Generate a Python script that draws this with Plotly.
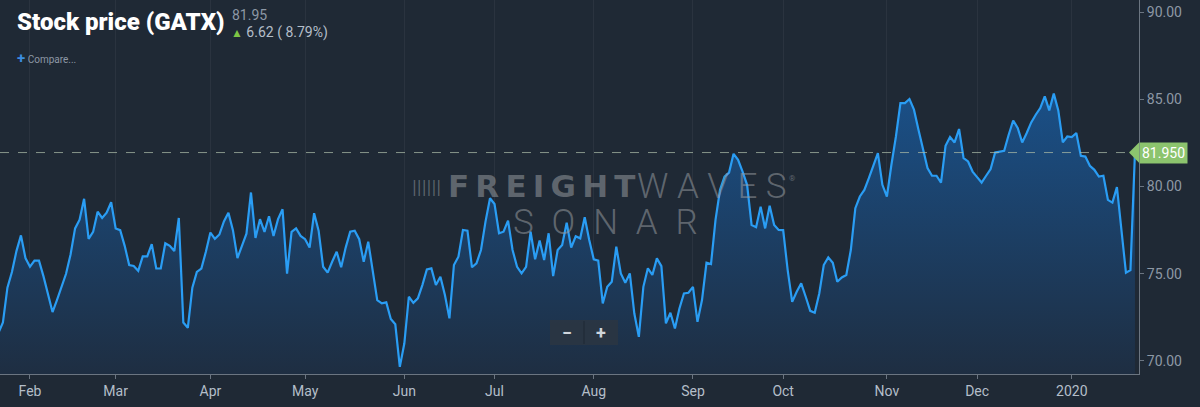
import pandas as pd
import plotly.graph_objects as go

# --- Data (GATX daily close) ---
START_DATE = "2019-01-23"
END_DATE = "2020-01-23"
HOLIDAYS = ["2019-02-18", "2019-04-19", "2019-05-27", "2019-07-04", "2019-09-02",
            "2019-11-28", "2019-12-25", "2020-01-01", "2020-01-20"]

prices = [
    71.6, 72.2, 74.2, 75.1, 76.3, 77.2, 75.9, 75.4, 75.75, 75.75,
    74.85, 73.9, 72.8, 73.5, 74.3, 75.0, 76.1, 77.6, 78.1, 79.3,
    77.0, 77.4, 78.56, 78.2, 78.5, 79.1, 77.6, 77.5, 76.6, 75.5,
    75.45, 75.17, 76.0, 76.0, 76.7, 75.3, 75.3, 76.75, 76.6, 76.3,
    78.2, 72.2, 71.9, 74.2, 75.1, 75.3, 76.26, 77.36, 77.0, 77.25,
    78.0, 78.5, 77.5, 75.9, 76.6, 77.3, 79.66, 77.05, 78.13, 77.4,
    78.3, 77.17, 78.13, 78.7, 75.0, 77.4, 77.6, 77.17, 76.98, 76.5,
    78.47, 77.47, 75.4, 75.06, 75.69, 76.26, 75.37, 76.5, 77.41, 77.47,
    76.98, 75.69, 76.84, 75.21, 73.49, 73.3, 73.36, 72.4, 72.1, 69.66,
    71.0, 73.68, 73.33, 73.59, 74.35, 75.25, 75.31, 74.35, 74.83, 73.78,
    72.44, 75.5, 75.98, 77.51, 77.47, 75.37, 75.6, 76.36, 77.99, 79.33,
    79.0, 77.32, 77.41, 78.05, 76.36, 75.4, 75.02, 75.4, 77.41, 75.83,
    76.9, 75.79, 77.32, 74.87, 76.36, 76.65, 77.93, 76.5, 77.15, 77.03,
    78.24, 76.94, 75.83, 75.75, 73.3, 74.25, 74.54, 76.55, 75.02, 74.48,
    75.02, 72.72, 71.38, 74.25, 75.31, 74.93, 75.88, 75.44, 72.15, 72.76,
    71.86, 73.01, 73.87, 73.91, 74.25, 72.24, 73.49, 75.63, 75.56, 78.09,
    79.81, 80.57, 80.8, 81.88, 81.53, 80.86, 80.1, 77.8, 77.67, 78.85,
    77.6, 78.9, 77.8, 77.51, 77.5, 75.21, 73.39, 73.97, 74.45, 73.68,
    72.87, 72.76, 73.87, 75.5, 75.94, 75.63, 74.54, 74.79, 74.93, 76.36,
    78.76, 79.43, 79.81, 80.48, 81.15, 81.92, 80.1, 79.43, 81.25, 82.87,
    84.79, 84.79, 85.02, 84.41, 83.26, 82.21, 81.06, 80.62, 80.62, 80.23,
    82.34, 82.84, 82.53, 83.3, 81.63, 81.44, 80.86, 80.54, 80.23, 80.62,
    81.0, 81.95, 82.01, 82.05, 82.97, 83.79, 83.36, 82.53, 83.07, 83.68,
    84.12, 84.5, 85.17, 84.37, 85.33, 84.37, 82.53, 82.87, 82.84, 83.07,
    81.76, 81.72, 81.19, 80.96, 80.57, 80.62, 79.24, 79.08, 79.97, 77.51,
    75.06, 75.21, 81.95,
]

month_ticks = ["2019-02-01", "2019-03-01", "2019-04-01", "2019-05-01", "2019-06-03",
               "2019-07-01", "2019-08-01", "2019-09-03", "2019-10-01", "2019-11-01",
               "2019-12-02", "2020-01-02"]
month_labels = ["Feb", "Mar", "Apr", "May", "Jun", "Jul", "Aug", "Sep", "Oct", "Nov", "Dec", "2020"]

y_ticks = [70, 75, 80, 85, 90]

last_price = 81.95
change = 6.62
change_pct = 8.79

# --- Styling ---
BG = "#1f2935"
LINE = "#2a9df4"
GRID = "rgba(255,255,255,0.05)"
AXIS_TXT = "#8d98a5"
WATERMARK = "rgba(150,155,160,0.55)"
THIN = "\u2009"

PLOT_W = 1139  # px of plot area (used to place overlay items)
PLOT_H = 374

dates = pd.bdate_range(START_DATE, END_DATE)
dates = dates[~dates.isin(pd.to_datetime(HOLIDAYS))]
assert len(dates) == len(prices), (len(dates), len(prices))


def px_x(x):
    return x / PLOT_W


def px_y(y):
    return 1 - y / PLOT_H


fig = go.Figure()
fig.add_trace(go.Scatter(
    x=dates, y=prices, mode="lines",
    line=dict(color=LINE, width=2.2),
    fill="tozeroy",
    fillgradient=dict(type="vertical",
                      colorscale=[[0, "rgba(30,46,66,1)"], [1, "rgba(26,80,136,1)"]],
                      start=69.3, stop=85.5),
    hoverinfo="x+y",
    showlegend=False,
))

# dashed line at last price
fig.add_shape(type="line", xref="paper", x0=0, x1=1, yref="y", y0=last_price, y1=last_price,
              line=dict(color="rgba(170,185,165,0.75)", width=1, dash="dash"))

# price tag on the axis
fig.add_shape(type="path", xref="paper", yref="y",
              path=f"M {px_x(1129)},{last_price} L 1,{last_price + 0.58} L 1,{last_price - 0.58} Z",
              fillcolor="#8cc46e", line=dict(width=0))
fig.add_annotation(xref="paper", yref="y", x=1, y=last_price, xanchor="left", yanchor="middle",
                   text=f"{last_price:.3f}", showarrow=False, bgcolor="#8cc46e",
                   font=dict(family="Roboto", size=14, color="#ffffff"),
                   borderpad=2)

# header
fig.add_annotation(xref="paper", yref="paper", x=px_x(15), y=px_y(22), xanchor="left", yanchor="middle",
                   text="Stock price (GATX)", showarrow=False,
                   font=dict(family="Roboto", size=24, color="#ffffff", weight=900))
fig.add_annotation(xref="paper", yref="paper", x=px_x(230), y=px_y(15), xanchor="left", yanchor="middle",
                   text=f"{last_price:.2f}", showarrow=False,
                   font=dict(family="Roboto", size=14, color="#8d98a5"))
fig.add_annotation(xref="paper", yref="paper", x=px_x(229), y=px_y(32), xanchor="left", yanchor="middle",
                   text=f"<span style='color:#7dc545;font-size:12px'>▲</span> {change:.2f} ( {change_pct:.2f}%)",
                   showarrow=False,
                   font=dict(family="Roboto", size=14, color="#b4bec9"))
fig.add_annotation(xref="paper", yref="paper", x=px_x(15), y=px_y(58), xanchor="left", yanchor="middle",
                   text="<span style='color:#3b8de0;font-size:15px'><b>+</b></span> Compare...",
                   showarrow=False,
                   font=dict(family="Roboto", size=10, color="#8d98a5"))

# watermark
fig.add_annotation(xref="paper", yref="paper", x=px_x(410), y=px_y(186), xanchor="left", yanchor="middle",
                   text="||||||", showarrow=False,
                   font=dict(family="DejaVu Sans Condensed", size=16, color=WATERMARK))
fig.add_annotation(xref="paper", yref="paper", x=px_x(637), y=px_y(186), xanchor="right", yanchor="middle",
                   text=THIN.join("FREIGHT"), showarrow=False,
                   font=dict(family="DejaVu Sans", size=31, color=WATERMARK, weight=900))
fig.add_annotation(xref="paper", yref="paper", x=px_x(635), y=px_y(186), xanchor="left", yanchor="middle",
                   text=" ".join("WAVES"), showarrow=False,
                   font=dict(family="Roboto", size=35, color=WATERMARK, weight=300))
fig.add_annotation(xref="paper", yref="paper", x=px_x(787), y=px_y(178), xanchor="left", yanchor="middle",
                   text="®", showarrow=False,
                   font=dict(family="Roboto", size=8, color=WATERMARK))
fig.add_annotation(xref="paper", yref="paper", x=px_x(605), y=px_y(222), xanchor="center", yanchor="middle",
                   text="\u2002".join("SONAR"), showarrow=False,
                   font=dict(family="Roboto", size=35, color=WATERMARK, weight=300))

# zoom buttons
fig.add_shape(type="rect", xref="paper", yref="paper",
              x0=px_x(550), x1=px_x(618), y0=px_y(345), y1=px_y(320),
              fillcolor="rgba(44,54,66,0.85)", line=dict(width=0), layer="above")
fig.add_shape(type="line", xref="paper", yref="paper",
              x0=px_x(584), x1=px_x(584), y0=px_y(344), y1=px_y(321),
              line=dict(color="rgba(30,40,52,1)", width=1), layer="above")
fig.add_annotation(xref="paper", yref="paper", x=px_x(567), y=px_y(332), xanchor="center", yanchor="middle",
                   text="<b>−</b>", showarrow=False, font=dict(family="Roboto", size=18, color="#d0d6dc"))
fig.add_annotation(xref="paper", yref="paper", x=px_x(601), y=px_y(332), xanchor="center", yanchor="middle",
                   text="<b>+</b>", showarrow=False, font=dict(family="Roboto", size=18, color="#d0d6dc"))

fig.update_layout(
    width=1200, height=407,
    margin=dict(l=0, r=61, t=0, b=33),
    paper_bgcolor=BG, plot_bgcolor=BG,
    font=dict(family="Roboto", color=AXIS_TXT),
    hovermode="x",
    xaxis=dict(
        type="date",
        range=["2019-01-23 08:30", "2020-01-23 21:30"],
        rangebreaks=[dict(bounds=["sat", "mon"]), dict(values=HOLIDAYS)],
        tickvals=month_ticks, ticktext=month_labels,
        showgrid=True, gridcolor=GRID, gridwidth=1,
        showline=True, linecolor="#6b7581", linewidth=1,
        ticks="outside", ticklen=4, tickcolor="#6b7581",
        tickfont=dict(size=14, color="#b4bec9"),
        zeroline=False, fixedrange=True,
    ),
    yaxis=dict(
        side="right",
        range=[69.25, 90.7],
        tickvals=y_ticks, tickformat=".2f",
        showgrid=False, zeroline=False,
        showline=True, linecolor="#6b7581", linewidth=1,
        ticks="outside", ticklen=4, tickcolor="#6b7581",
        tickfont=dict(size=14, color=AXIS_TXT),
        fixedrange=True,
    ),
)

fig.write_html("out.html", config={"displayModeBar": False},
               post_script="document.body.style.margin='0';")
